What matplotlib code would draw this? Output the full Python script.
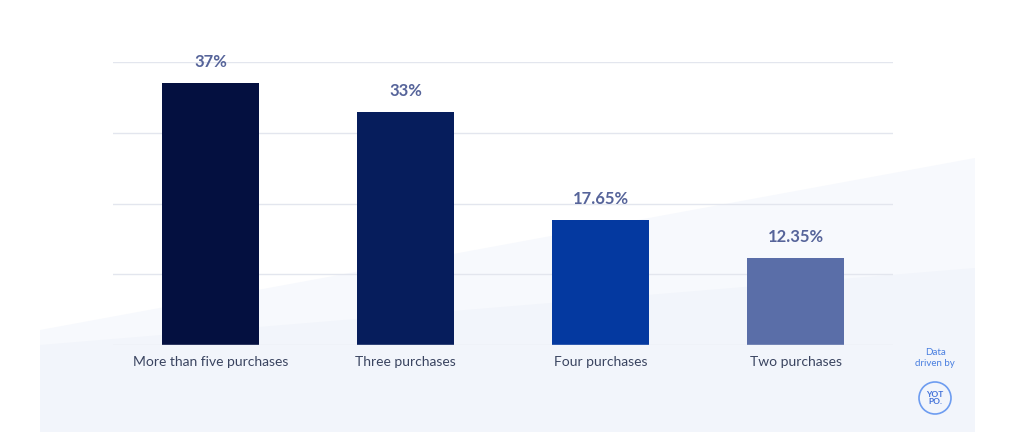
import matplotlib
matplotlib.use("Agg")
import matplotlib.pyplot as plt
from matplotlib.patches import Polygon, Circle

categories = ["More than five purchases", "Three purchases", "Four purchases", "Two purchases"]
values = [37, 33, 17.65, 12.35]
labels = ["37%", "33%", "17.65%", "12.35%"]
colors = ["#041040", "#061d5c", "#0439a0", "#5a6ea8"]

W, H = 1024, 438
fig = plt.figure(figsize=(W/100, H/100), dpi=100)
fig.patch.set_facecolor("white")
bg = fig.add_axes([0, 0, 1, 1], zorder=0)
bg.set_xlim(0, W); bg.set_ylim(H, 0); bg.axis("off")
bg.add_patch(Polygon([(40, 330), (975, 158), (975, 432), (40, 432)], closed=True,
                     facecolor="#f7f9fd", edgecolor="none"))
bg.add_patch(Polygon([(40, 345), (975, 268), (975, 432), (40, 432)], closed=True,
                     facecolor="#f2f5fb", edgecolor="none"))

ax = fig.add_axes([113/W, 1-345/H, 780/W, (345-62)/H], zorder=1)
ax.patch.set_alpha(0)
x = list(range(len(categories)))
ax.bar(x, values, width=0.5, color=colors, zorder=2)
ax.set_xlim(-0.5, 3.5); ax.set_ylim(0, 40)
ax.set_yticks([10, 20, 30, 40]); ax.set_yticklabels([])
ax.tick_params(length=0)
ax.grid(axis="y", color="#e3e6ee", linewidth=1, zorder=0)
for s in ax.spines.values(): s.set_visible(False)
ax.axhline(0, color="#e3e6ee", linewidth=1)
ax.set_xticks(x)
ax.set_xticklabels(categories, fontsize=10, color="#3a4460", family="Lato")
ax.tick_params(axis="x", pad=8)
for xi, v, l in zip(x, values, labels):
    ax.text(xi, v + 1.8, l, ha="center", va="bottom", fontsize=12, fontweight="bold",
            color="#56649a", family="Lato")

bg.text(935, 358, "Data\ndriven by", ha="center", va="center", fontsize=7, color="#4a7fe0",
        family="Lato", linespacing=1.3)
bg.add_patch(Circle((935, 398), 16, facecolor="none", edgecolor="#6d9cf0", linewidth=1.2))
bg.text(935, 398, "YOT\nPO.", ha="center", va="center", fontsize=6, color="#3f6fd8",
        fontweight="bold", family="Lato", linespacing=0.9)

fig.savefig("out.png", dpi=100)
